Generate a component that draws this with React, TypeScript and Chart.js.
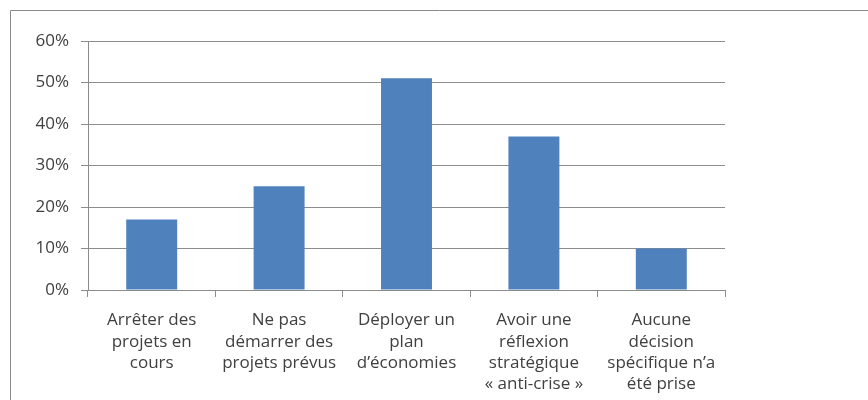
import React, { useEffect, useRef } from "react";
import { Chart, registerables } from "chart.js";

Chart.register(...registerables);

const categories: string[][] = [
  ["Arrêter des", "projets en", "cours"],
  ["Ne pas", "démarrer des", "projets prévus"],
  ["Déployer un", "plan", "d’économies"],
  ["Avoir une", "réflexion", "stratégique", "« anti-crise »"],
  ["Aucune", "décision", "spécifique n’a", "été prise"],
];
const values: number[] = [17, 25, 51, 37, 10];
const yTicks: number[] = [0, 10, 20, 30, 40, 50, 60];

const FONT = "'Open Sans', sans-serif";
const TEXT = "#404040";
const GRID = "#8c8c8c";

const frame = {
  id: "frame",
  beforeDraw(chart: any) {
    const ctx = chart.ctx;
    ctx.save();
    ctx.strokeStyle = "#8a8a8a";
    ctx.lineWidth = 1;
    ctx.beginPath();
    ctx.moveTo(10.5, chart.height);
    ctx.lineTo(10.5, 10.5);
    ctx.lineTo(chart.width, 10.5);
    ctx.stroke();
    ctx.restore();
  },
};

export default function App() {
  const ref = useRef<HTMLCanvasElement>(null);
  useEffect(() => {
    if (!ref.current) return;
    const chart = new Chart(ref.current, {
      type: "bar",
      data: {
        labels: categories,
        datasets: [
          {
            data: values,
            backgroundColor: "#4F81BD",
            borderWidth: 0,
            barPercentage: 0.4,
            categoryPercentage: 1,
          },
        ],
      },
      options: {
        animation: false,
        responsive: false,
        devicePixelRatio: 1,
        layout: { padding: { top: 41, right: 143, bottom: 0, left: 0 } },
        plugins: { legend: { display: false }, tooltip: { enabled: false } },
        scales: {
          x: {
            offset: true,
            grid: {
              display: true,
              offset: true,
              drawOnChartArea: false,
              drawTicks: true,
              tickLength: 7,
              color: GRID,
            },
            border: { display: true, color: GRID },
            ticks: {
              color: TEXT,
              font: { family: FONT, size: 17, lineHeight: 1.25 },
              padding: 13,
              maxRotation: 0,
              autoSkip: false,
            },
            afterFit(scale: any) {
              scale.height = 110;
            },
          },
          y: {
            min: 0,
            max: 60,
            afterBuildTicks(scale: any) {
              scale.ticks = yTicks.map((v) => ({ value: v }));
            },
            grid: { color: GRID, tickLength: 7 },
            border: { display: true, color: GRID },
            ticks: {
              color: TEXT,
              font: { family: FONT, size: 17 },
              padding: 12,
              callback: (v: any) => v + "%",
            },
            afterFit(scale: any) {
              scale.width = 88;
            },
          },
        },
      },
      plugins: [frame],
    });
    return () => chart.destroy();
  }, []);
  return (
    <div style={{ position: "fixed", left: 0, top: 0, width: 868, height: 400, background: "#fff" }}>
      <canvas ref={ref} width={868} height={400} style={{ width: 868, height: 400 }} />
    </div>
  );
}
